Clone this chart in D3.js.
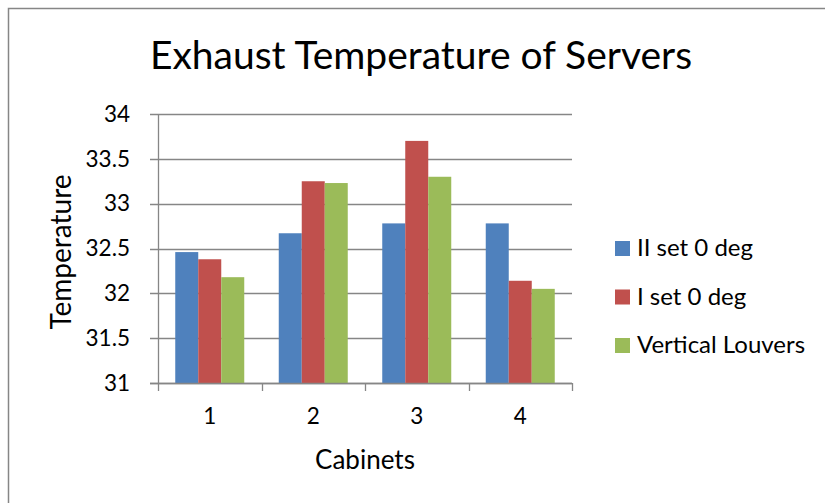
<!DOCTYPE html>
<html>
<head>
<meta charset="utf-8">
<script src="https://cdn.jsdelivr.net/npm/d3@7"></script>
<style>
  html, body { margin: 0; padding: 0; background: #fff; }
  svg { display: block; }
  text { font-family: Lato, "Open Sans", sans-serif; fill: #000; }
</style>
</head>
<body>
<svg id="chart" width="825" height="503"></svg>
<script>
// Exhaust temperature per cabinet for three louver settings
const cabinets = ["1", "2", "3", "4"];
const seriesNames = ["II set 0 deg", "I set 0 deg", "Vertical Louvers"];
const seriesColors = ["#4F81BD", "#C0504D", "#9BBB59"];
const iiSet0 = [32.46, 32.67, 32.78, 32.78];
const iSet0 = [32.38, 33.25, 33.70, 32.14];
const verticalLouvers = [32.18, 33.23, 33.30, 32.05];
const yTicks = [31, 31.5, 32, 32.5, 33, 33.5, 34];

const seriesValues = [iiSet0, iSet0, verticalLouvers];

const svg = d3.select("#chart");
const W = 825, H = 503;
const plot = { left: 158, right: 572, top: 114, bottom: 383 };

// chart frame
svg.append("rect")
  .attr("x", 8.5).attr("y", 8.5)
  .attr("width", W + 10).attr("height", H + 10)
  .attr("fill", "#fff").attr("stroke", "#868686").attr("stroke-width", 1.5);

const x = d3.scaleBand().domain(cabinets).range([plot.left, plot.right]).padding(0);
const xInner = d3.scaleBand().domain(seriesNames).range([0, x.bandwidth()])
  .paddingInner(0).paddingOuter(0.75);
const y = d3.scaleLinear().domain([31, 34]).range([plot.bottom, plot.top]);

// horizontal gridlines (with outward tick stubs)
svg.append("g").selectAll("line").data(yTicks).join("line")
  .attr("x1", plot.left - 8).attr("x2", plot.right)
  .attr("y1", d => Math.round(y(d)) + 0.5).attr("y2", d => Math.round(y(d)) + 0.5)
  .attr("stroke", "#868686").attr("stroke-width", 1.3);

// bars
const groups = svg.append("g").selectAll("g").data(cabinets).join("g")
  .attr("transform", d => `translate(${x(d)},0)`);
groups.selectAll("rect")
  .data((c, i) => seriesNames.map((s, k) => ({ s, k, v: seriesValues[k][i] })))
  .join("rect")
  .attr("x", d => xInner(d.s))
  .attr("width", xInner.bandwidth())
  .attr("y", d => y(d.v))
  .attr("height", d => y(31) - y(d.v))
  .attr("fill", d => seriesColors[d.k]);

// y axis line
svg.append("line")
  .attr("x1", plot.left + 0.5).attr("x2", plot.left + 0.5)
  .attr("y1", plot.top).attr("y2", plot.bottom)
  .attr("stroke", "#868686").attr("stroke-width", 1.3);

// x axis line and category ticks
svg.append("line")
  .attr("x1", plot.left - 8).attr("x2", plot.right)
  .attr("y1", plot.bottom + 0.5).attr("y2", plot.bottom + 0.5)
  .attr("stroke", "#868686").attr("stroke-width", 1.3);
const boundaries = cabinets.map(c => x(c)).concat([x(cabinets[cabinets.length - 1]) + x.bandwidth()]);
svg.append("g").selectAll("line").data(boundaries).join("line")
  .attr("x1", d => Math.round(d) + 0.5).attr("x2", d => Math.round(d) + 0.5)
  .attr("y1", plot.bottom).attr("y2", plot.bottom + 8)
  .attr("stroke", "#868686").attr("stroke-width", 1.3);

// y tick labels
const yAxis = d3.axisLeft(y).tickValues(yTicks).tickSize(0).tickPadding(28)
  .tickFormat(d => String(d));
const gy = svg.append("g").attr("transform", `translate(${plot.left},0)`).call(yAxis);
gy.select(".domain").remove();
gy.selectAll("text").style("font-family", "Lato, sans-serif").style("font-size", "22.5px").attr("fill", "#000");

// x tick labels
const xAxis = d3.axisBottom(x).tickSize(0).tickPadding(25);
const gx = svg.append("g").attr("transform", `translate(0,${plot.bottom})`).call(xAxis);
gx.select(".domain").remove();
gx.selectAll("text").style("font-family", "Lato, sans-serif").style("font-size", "22.5px").attr("fill", "#000");

// title
svg.append("text")
  .attr("x", 421).attr("y", 69)
  .attr("text-anchor", "middle")
  .style("font-size", "39px")
  .text("Exhaust Temperature of Servers");

// axis titles
svg.append("text")
  .attr("x", 365).attr("y", 469)
  .attr("text-anchor", "middle")
  .style("font-size", "26px")
  .text("Cabinets");
svg.append("text")
  .attr("transform", "translate(71,252) rotate(-90)")
  .attr("text-anchor", "middle")
  .style("font-size", "28px")
  .text("Temperature");

// legend
const legend = svg.append("g").selectAll("g").data(seriesNames).join("g")
  .attr("transform", (d, i) => `translate(615,${241 + i * 48.5})`);
legend.append("rect").attr("width", 15).attr("height", 15)
  .attr("fill", (d, i) => seriesColors[i]);
legend.append("text").attr("x", 22).attr("y", 15)
  .style("font-size", "24px")
  .text(d => d);
</script>
</body>
</html>
